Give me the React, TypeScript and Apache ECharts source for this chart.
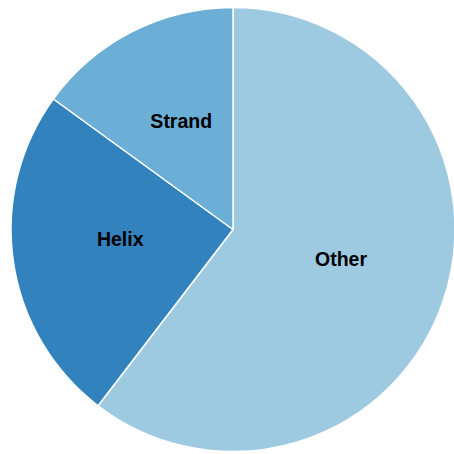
import React, { useEffect, useRef } from "react";
import * as echarts from "echarts";

const categories = ["Other", "Helix", "Strand"];
const values = [60.4, 24.6, 15.0];
const colors = ["#9ecae1", "#3182bd", "#6baed6"];

export default function App() {
  const ref = useRef<HTMLDivElement>(null);
  useEffect(() => {
    if (!ref.current) return;
    const chart = echarts.init(ref.current, null, { renderer: "svg" });
    chart.setOption({
      animation: false,
      backgroundColor: "#ffffff",
      series: [
        {
          type: "pie",
          center: [233, 229.5],
          radius: [0, 222],
          startAngle: 90,
          clockwise: true,
          avoidLabelOverlap: false,
          itemStyle: { borderColor: "#ffffff", borderWidth: 1.5 },
          label: {
            show: true,
            position: "inside",
            color: "#000000",
            fontFamily: "'Liberation Sans', Arial, sans-serif",
            fontWeight: "bold",
            fontSize: 19.5,
            offset: [0, -7],
            formatter: "{b}",
          },
          labelLine: { show: false },
          emphasis: { disabled: true },
          data: categories.map((c, i) => ({
            name: c,
            value: values[i],
            itemStyle: { color: colors[i] },
          })),
        },
      ],
    });
    return () => chart.dispose();
  }, []);
  return (
    <div
      ref={ref}
      style={{ position: "absolute", left: 0, top: 0, width: 454, height: 454 }}
    />
  );
}
